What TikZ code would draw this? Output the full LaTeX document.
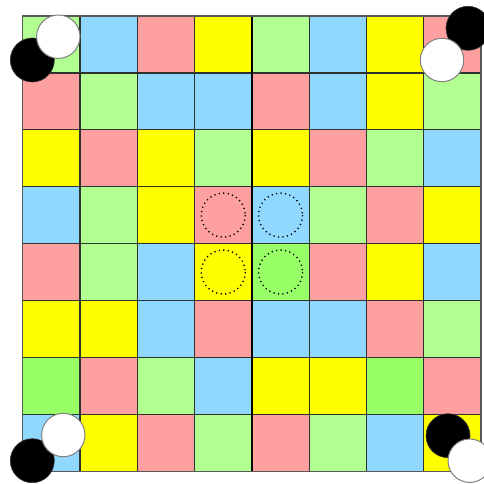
\documentclass[tikz,border=0pt]{standalone}
\definecolor{pk}{RGB}{255,160,160}
\definecolor{bl}{RGB}{144,216,255}
\definecolor{yl}{RGB}{255,255,0}
\definecolor{lg}{RGB}{178,255,146}
\definecolor{bg}{RGB}{152,255,102}
\definecolor{gridc}{RGB}{45,50,45}
\tikzset{
  gridline/.style={draw=gridc, line width=1.3pt},
  blackstone/.style={fill=black, draw=black!80, line width=0.6pt},
  whitestone/.style={fill=white, draw=gray, line width=1pt},
  target/.style={draw=black, line width=1.4pt, dash pattern=on 1.2pt off 3.3pt}
}
\begin{document}
\begin{tikzpicture}[x=1pt,y=-1pt]
\useasboundingbox (0,0) rectangle (483,484);
\def\L{22.7}\def\T{16}\def\W{57.3}\def\H{56.9}
\foreach \rowc [count=\r from 0] in {
  {lg,bl,pk,yl,lg,bl,yl,pk},
  {pk,lg,bl,bl,pk,bl,yl,lg},
  {yl,pk,yl,lg,yl,pk,lg,bl},
  {bl,lg,yl,pk,bl,lg,pk,yl},
  {pk,lg,bl,yl,bg,pk,yl,bl},
  {yl,yl,bl,pk,bl,bl,pk,lg},
  {bg,pk,lg,bl,yl,yl,bg,pk},
  {bl,yl,pk,lg,pk,lg,bl,yl}} {
  \foreach \c [count=\k from 0] in \rowc {
    \fill[\c] ({\L+\k*\W},{\T+\r*\H}) rectangle ++(\W,\H);
  }
}
\foreach \i in {0,...,8} {
  \draw[gridline] ({\L+\i*\W},\T) -- ({\L+\i*\W},{\T+8*\H});
  \draw[gridline] (\L,{\T+\i*\H}) -- ({\L+8*\W},{\T+\i*\H});
}
\draw[draw=black, line width=1.8pt] ({\L+4*\W},\T) -- ({\L+4*\W},{\T+8*\H});
\draw[draw=gray!70!black, line width=1.3pt] (\L,\T) rectangle ({\L+8*\W},{\T+8*\H});
% target circles
\draw[target] ({\L+3.5*\W},{\T+3.5*\H}) circle (22);
\draw[target] ({\L+4.5*\W},{\T+3.5*\H}) circle (22);
\draw[target] ({\L+3.5*\W},{\T+4.5*\H}) circle (22);
\draw[target] ({\L+4.5*\W},{\T+4.5*\H}) circle (22);
% corner stones
\draw[blackstone] (32.3,60) circle (22);
\draw[whitestone] (58.3,36.7) circle (21.7);
\draw[blackstone] (468,28.3) circle (22);
\draw[whitestone] (442,60) circle (21.7);
\draw[blackstone] (32.3,460.7) circle (22);
\draw[whitestone] (63.3,435) circle (21.7);
\draw[blackstone] (448,435.7) circle (22);
\draw[whitestone] (469.7,460.7) circle (21.7);
\end{tikzpicture}
\end{document}
